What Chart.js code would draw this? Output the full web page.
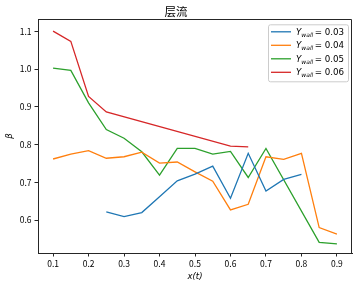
<!DOCTYPE html>
<html>
<head>
<meta charset="utf-8">
<script src="https://cdn.jsdelivr.net/npm/chart.js@4.4.0/dist/chart.umd.min.js"></script>
<style>
  html, body { margin: 0; padding: 0; background: #fff; }
  canvas { display: block; }
</style>
</head>
<body>
<canvas id="c" width="358" height="289"></canvas>
<script>
// ---- data ----
const titleText = '层流';
const xValues = [0.1, 0.15, 0.2, 0.25, 0.3, 0.35, 0.4, 0.45, 0.5, 0.55, 0.6, 0.65, 0.7, 0.75, 0.8, 0.85, 0.9];
const ywall003 = [null, null, null, 0.622, 0.609, 0.620, 0.662, 0.704, 0.722, 0.743, 0.658, 0.777, 0.677, 0.708, 0.721, null, null];
const ywall004 = [0.762, 0.775, 0.784, 0.764, 0.768, 0.780, 0.751, 0.754, 0.728, 0.703, 0.627, 0.642, 0.768, 0.761, 0.777, 0.580, 0.563];
const ywall005 = [1.003, 0.997, 0.911, 0.840, 0.817, 0.781, 0.719, 0.790, 0.790, 0.775, 0.782, 0.713, 0.790, null, null, 0.541, 0.537];
const ywall006 = [1.101, 1.074, 0.928, 0.887, null, null, null, null, null, null, 0.796, 0.794, null, null, null, null, null];
const seriesNames = ['0.03', '0.04', '0.05', '0.06'];
const seriesColors = ['#1f77b4', '#ff7f0e', '#2ca02c', '#d62728'];
const xTicks = [0.1, 0.2, 0.3, 0.4, 0.5, 0.6, 0.7, 0.8, 0.9];
const yTicks = [0.6, 0.7, 0.8, 0.9, 1.0, 1.1];
const xLabel = 'x(t)';
const yLabel = 'β';

const allSeries = [ywall003, ywall004, ywall005, ywall006];
const toPoints = arr => xValues.map((x, i) => ({ x: x, y: arr[i] })).filter(p => p.y !== null);

const FONT = "'Noto Sans CJK SC', 'Noto Sans', sans-serif";
const AXIS = '#262626';

const framePlugin = {
  id: 'frame',
  afterDraw(chart) {
    const { ctx, chartArea: a } = chart;
    ctx.save();
    ctx.strokeStyle = AXIS;
    ctx.lineWidth = 1;
    ctx.beginPath();
    ctx.moveTo(Math.round(a.left) + 0.5, Math.round(a.top) + 0.5);
    ctx.lineTo(Math.round(a.right) - 0.5, Math.round(a.top) + 0.5);
    ctx.lineTo(Math.round(a.right) - 0.5, Math.round(a.bottom) + 0.5);
    ctx.stroke();
    ctx.restore();
  }
};

const legendPlugin = {
  id: 'mathLegend',
  afterDraw(chart) {
    const { ctx, chartArea: a } = chart;
    ctx.save();
    const bx = a.right - 84, by = a.top + 5, bw = 80, bh = 57, r = 2;
    ctx.fillStyle = 'rgba(255,255,255,0.8)';
    ctx.strokeStyle = '#cccccc';
    ctx.lineWidth = 1;
    ctx.beginPath();
    ctx.roundRect(bx + 0.5, by + 0.5, bw, bh, r);
    ctx.fill();
    ctx.stroke();
    chart.data.datasets.forEach((ds, i) => {
      const y = by + 7.5 + i * 13.5;
      ctx.strokeStyle = ds.borderColor;
      ctx.lineWidth = 1.3;
      ctx.beginPath();
      ctx.moveTo(bx + 3, y);
      ctx.lineTo(bx + 23, y);
      ctx.stroke();
      let tx = bx + 28;
      const base = y + 3;
      ctx.fillStyle = '#000';
      ctx.textBaseline = 'alphabetic';
      ctx.textAlign = 'left';
      ctx.font = "italic 8.7px 'DejaVu Sans'";
      ctx.fillText('Y', tx, base);
      tx += ctx.measureText('Y').width;
      ctx.font = "italic 6px 'DejaVu Sans'";
      ctx.fillText('wall', tx, base + 2);
      tx += ctx.measureText('wall').width + 1.5;
      ctx.font = "8.7px 'DejaVu Sans'";
      ctx.fillText('= ' + seriesNames[i], tx, base);
    });
    ctx.restore();
  }
};

new Chart(document.getElementById('c'), {
  type: 'line',
  data: {
    datasets: allSeries.map((arr, i) => ({
      label: 'Y_wall = ' + seriesNames[i],
      data: toPoints(arr),
      borderColor: seriesColors[i],
      backgroundColor: seriesColors[i],
      borderWidth: 1.3,
      pointRadius: 0,
      tension: 0,
      fill: false
    }))
  },
  options: {
    responsive: false,
    animation: false,
    layout: { padding: { left: 0, right: 6, top: 0, bottom: 0 } },
    plugins: {
      legend: { display: false },
      tooltip: { enabled: false },
      title: {
        display: true,
        text: titleText,
        color: '#000',
        font: { family: FONT, size: 11.5, weight: 'normal' },
        padding: { top: 4.5, bottom: 1 }
      }
    },
    scales: {
      x: {
        type: 'linear',
        min: 0.0575,
        max: 0.9425,
        afterFit(s) { s.height = 36; },
        afterBuildTicks(s) { s.ticks = xTicks.map(v => ({ value: v })); },
        ticks: {
          color: '#000',
          font: { family: FONT, size: 8.5 },
          padding: 2,
          maxRotation: 0,
          autoSkip: false,
          callback: v => v.toFixed(1)
        },
        grid: { drawOnChartArea: false, drawTicks: true, tickLength: 3.5, color: AXIS },
        border: { display: true, color: AXIS, width: 1 },
        title: {
          display: true,
          text: xLabel,
          color: '#000',
          font: { family: "'DejaVu Sans'", size: 8.5, style: 'italic' },
          padding: { top: 0, bottom: 7 }
        }
      },
      y: {
        type: 'linear',
        min: 0.5127,
        max: 1.1325,
        afterFit(s) { s.width = 38; },
        afterBuildTicks(s) { s.ticks = yTicks.map(v => ({ value: v })); },
        ticks: {
          color: '#000',
          font: { family: FONT, size: 8.5 },
          padding: 3,
          autoSkip: false,
          callback: v => v.toFixed(1)
        },
        grid: { drawOnChartArea: false, drawTicks: true, tickLength: 3.5, color: AXIS },
        border: { display: true, color: AXIS, width: 1 },
        title: {
          display: true,
          text: yLabel,
          color: '#000',
          font: { family: "'DejaVu Sans'", size: 8.5, style: 'italic' },
          padding: { top: 4.5, bottom: 0 }
        }
      }
    }
  },
  plugins: [framePlugin, legendPlugin]
});
</script>
</body>
</html>
